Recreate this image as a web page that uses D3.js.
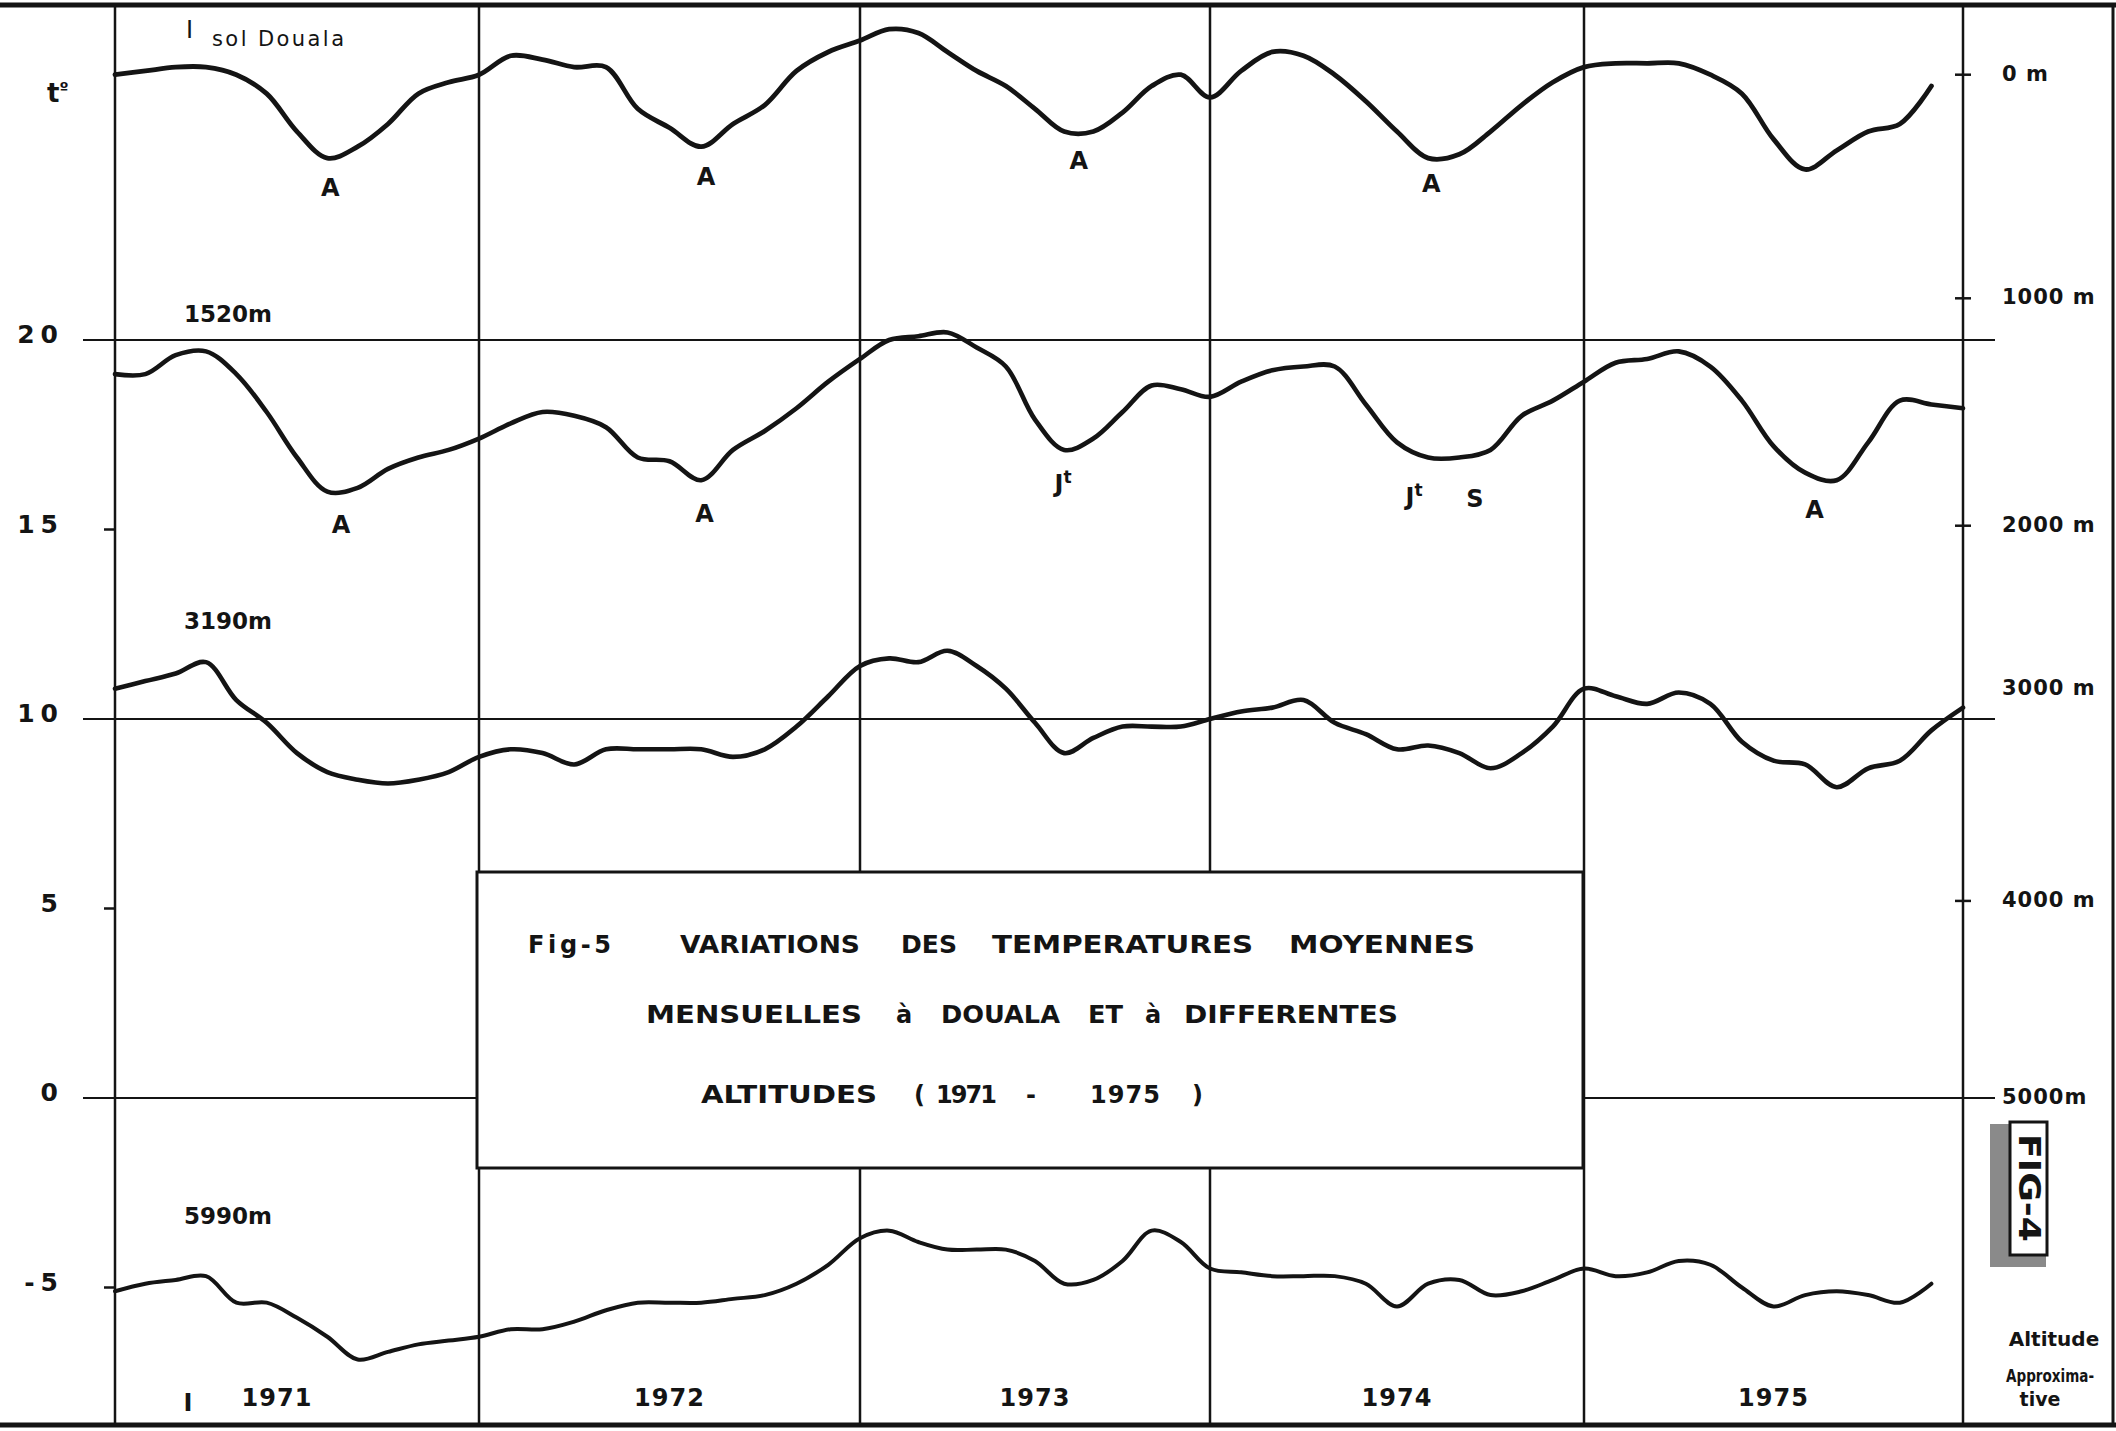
<!DOCTYPE html>
<html>
<head>
<meta charset="utf-8">
<script src="https://cdn.jsdelivr.net/npm/d3@7"></script>
<style>
  html, body { margin: 0; padding: 0; background: #fff; }
  svg { display: block; }
  text { font-family: "DejaVu Sans", sans-serif; fill: #141414; }
</style>
</head>
<body>
<div id="chart"></div>
<script>
// monthly mean temperatures (deg C), one value per month boundary, Jan 1971 -> Dec 1975
const years = [1971, 1972, 1973, 1974, 1975];

const douala = [
  27.0, 27.1, 27.2, 27.2, 27.0, 26.5, 25.5, 24.8, 25.1, 25.7, 26.5, 26.8,
  27.0, 27.5, 27.4, 27.2, 27.2, 26.1, 25.6, 25.1, 25.7, 26.2, 27.1, 27.6,
  27.9, 28.2, 28.1, 27.6, 27.1, 26.7, 26.1, 25.5, 25.5, 26.0, 26.7, 27.0,
  26.4, 27.1, 27.6, 27.5, 27.0, 26.3, 25.5, 24.8, 24.9, 25.5, 26.2, 26.8,
  27.2, 27.3, 27.3, 27.3, 27.0, 26.5, 25.3, 24.5, 25.0, 25.5, 25.7, 26.7, null];

const alt1520 = [
  19.1, 19.1, 19.6, 19.7, 19.1, 18.1, 16.9, 16.0, 16.1, 16.6, 16.9, 17.1,
  17.4, 17.8, 18.1, 18.0, 17.7, 16.9, 16.8, 16.3, 17.1, 17.6, 18.2, 18.9,
  19.5, 20.0, 20.1, 20.2, 19.8, 19.3, 17.9, 17.1, 17.4, 18.1, 18.8, 18.7,
  18.5, 18.9, 19.2, 19.3, 19.3, 18.3, 17.3, 16.9, 16.9, 17.1, 18.0, 18.4,
  18.9, 19.4, 19.5, 19.7, 19.3, 18.4, 17.2, 16.5, 16.3, 17.3, 18.4, 18.3, 18.2];

const alt3190 = [
  10.8, 11.0, 11.2, 11.5, 10.5, 9.9, 9.1, 8.6, 8.4, 8.3, 8.4, 8.6,
  9.0, 9.2, 9.1, 8.8, 9.2, 9.2, 9.2, 9.2, 9.0, 9.2, 9.8, 10.6,
  11.4, 11.6, 11.5, 11.8, 11.4, 10.8, 9.9, 9.1, 9.5, 9.8, 9.8, 9.8,
  10.0, 10.2, 10.3, 10.5, 9.9, 9.6, 9.2, 9.3, 9.1, 8.7, 9.1, 9.8,
  10.8, 10.6, 10.4, 10.7, 10.4, 9.4, 8.9, 8.8, 8.2, 8.7, 8.9, 9.7, 10.3];

const alt5990 = [
  -5.1, -4.9, -4.8, -4.7, -5.4, -5.4, -5.8, -6.3, -6.9, -6.7, -6.5, -6.4,
  -6.3, -6.1, -6.1, -5.9, -5.6, -5.4, -5.4, -5.4, -5.3, -5.2, -4.9, -4.4,
  -3.7, -3.5, -3.8, -4.0, -4.0, -4.0, -4.3, -4.9, -4.8, -4.3, -3.5, -3.8,
  -4.5, -4.6, -4.7, -4.7, -4.7, -4.9, -5.5, -4.9, -4.8, -5.2, -5.1, -4.8,
  -4.5, -4.7, -4.6, -4.3, -4.4, -5.0, -5.5, -5.2, -5.1, -5.2, -5.4, -4.9, null];

const seriesLabels = ["sol Douala", "1520m", "3190m", "5990m"];
const seriesLabelTemps = [27.9, 20.7, 12.6, -3.1];

const tempTicks = [20, 15, 10, 5, 0, -5];
const gridTemps = [20, 10, 0];
const altitudes = [0, 1000, 2000, 3000, 4000, 5000];
const altitudeTemps = [27.0, 21.1, 15.1, 10.8, 5.2, 0];
const tickedAltitudes = [0, 1000, 2000, 4000];

// seasonal minima marks: [series, month, label temp, text]
const marks = [
  [0, 7.1, 23.8, "A"], [0, 19.15, 24.1, "A"], [0, 31.5, 24.5, "A"], [0, 43.1, 23.9, "A"],
  [1, 7.45, 14.9, "A"], [1, 19.1, 15.2, "A"], [1, 30.96, 16.0, "Jt"],
  [1, 42.55, 15.65, "Jt"], [1, 44.5, 15.6, "S"], [1, 55.3, 15.3, "A"]
];

const titleLines = [
  [["Fig-5", 528, 611], ["VARIATIONS", 680, 860], ["DES", 901, 957], ["TEMPERATURES", 992, 1253], ["MOYENNES", 1289, 1475]],
  [["MENSUELLES", 646, 862], ["à", 896, 913], ["DOUALA", 941, 1060], ["ET", 1088, 1123], ["à", 1145, 1161], ["DIFFERENTES", 1184, 1398]],
  [["ALTITUDES", 701, 877], ["(", 914, 922], ["1971", 936, 997], ["-", 1026, 1037], ["1975", 1090, 1160], [")", 1192, 1199]]
];
const titleBaselines = [953, 1023, 1103];

const width = 2116, height = 1431;
const ink = "#141414";

const x = d3.scaleLinear()
  .domain([0, 12, 24, 36, 48, 60])
  .range([115, 479, 860, 1210, 1584, 1963]);

const y = d3.scaleLinear()
  .domain([0, 20])
  .range([1098, 340]);

const svg = d3.select("#chart").append("svg")
  .attr("width", width).attr("height", height);

svg.append("rect").attr("width", width).attr("height", height).attr("fill", "#fff");

// outer frame
svg.append("line").attr("x1", 0).attr("x2", width).attr("y1", 5).attr("y2", 5)
  .attr("stroke", ink).attr("stroke-width", 5);
svg.append("line").attr("x1", 0).attr("x2", width).attr("y1", 1425).attr("y2", 1425)
  .attr("stroke", ink).attr("stroke-width", 5);
svg.append("line").attr("x1", 2113).attr("x2", 2113).attr("y1", 5).attr("y2", 1425)
  .attr("stroke", ink).attr("stroke-width", 3);

// year separators
svg.selectAll(".yearline")
  .data(d3.range(0, 61, 12))
  .enter().append("line")
  .attr("class", "yearline")
  .attr("x1", d => x(d)).attr("x2", d => x(d))
  .attr("y1", 5).attr("y2", 1425)
  .attr("stroke", ink).attr("stroke-width", 2.5);

// horizontal reference lines
svg.selectAll(".grid")
  .data(gridTemps)
  .enter().append("line")
  .attr("class", "grid")
  .attr("x1", 83).attr("x2", 1995)
  .attr("y1", d => y(d)).attr("y2", d => y(d))
  .attr("stroke", ink).attr("stroke-width", 2.2);

// small ticks on the left edge
svg.selectAll(".ltick")
  .data(tempTicks.filter(d => !gridTemps.includes(d)))
  .enter().append("line")
  .attr("class", "ltick")
  .attr("x1", 104).attr("x2", 116)
  .attr("y1", d => y(d)).attr("y2", d => y(d))
  .attr("stroke", ink).attr("stroke-width", 2.5);

svg.selectAll(".tlabel")
  .data(tempTicks)
  .enter().append("text")
  .attr("class", "tlabel")
  .attr("x", 64)
  .attr("y", d => y(d) + 3)
  .attr("text-anchor", "end")
  .attr("font-size", 25)
  .attr("font-weight", "bold")
  .attr("letter-spacing", 6)
  .text(d => d);

svg.append("text").attr("x", 47).attr("y", 102)
  .attr("font-size", 26).attr("font-weight", "bold")
  .text("t").append("tspan").attr("dy", -9).attr("font-size", 16).text("º");

// altitude axis on the right
svg.selectAll(".rtick")
  .data(tickedAltitudes)
  .enter().append("line")
  .attr("class", "rtick")
  .attr("x1", 1955).attr("x2", 1971)
  .attr("y1", d => y(altitudeTemps[altitudes.indexOf(d)]))
  .attr("y2", d => y(altitudeTemps[altitudes.indexOf(d)]))
  .attr("stroke", ink).attr("stroke-width", 2.5);

svg.selectAll(".alabel")
  .data(altitudes)
  .enter().append("text")
  .attr("class", "alabel")
  .attr("x", 2002)
  .attr("y", (d, i) => y(altitudeTemps[i]) + 6)
  .attr("font-size", 21)
  .attr("font-weight", "bold")
  .attr("letter-spacing", 1)
  .text(d => d === 5000 ? d + "m" : d + " m");

svg.append("text").attr("x", 2054).attr("y", 1346).attr("text-anchor", "middle")
  .attr("font-size", 20).attr("font-weight", "bold").text("Altitude");
svg.append("text").attr("x", 2006).attr("y", 1382)
  .attr("font-size", 17).attr("font-weight", "bold")
  .attr("textLength", 88).attr("lengthAdjust", "spacingAndGlyphs").text("Approxima-");
svg.append("text").attr("x", 2040).attr("y", 1406).attr("text-anchor", "middle")
  .attr("font-size", 19).attr("font-weight", "bold").text("tive");

// stamp
const stamp = svg.append("g");
stamp.append("rect").attr("x", 1990).attr("y", 1124).attr("width", 56).attr("height", 143)
  .attr("fill", "#8a8a8a");
stamp.append("rect").attr("x", 2010).attr("y", 1122).attr("width", 37).attr("height", 133)
  .attr("fill", "#fff").attr("stroke", ink).attr("stroke-width", 3);
stamp.append("text")
  .attr("transform", "translate(2019,1188) rotate(90)")
  .attr("text-anchor", "middle")
  .attr("font-size", 30).attr("font-weight", "bold")
  .attr("textLength", 108).attr("lengthAdjust", "spacingAndGlyphs")
  .text("FIG-4");

// title box
svg.append("rect").attr("x", 477).attr("y", 872).attr("width", 1106).attr("height", 296)
  .attr("fill", "#fff").attr("stroke", ink).attr("stroke-width", 3);

titleLines.forEach((words, li) => {
  svg.append("g").selectAll("text")
    .data(words)
    .enter().append("text")
    .attr("x", d => d[1])
    .attr("y", titleBaselines[li])
    .attr("font-size", 24)
    .attr("font-weight", "bold")
    .attr("textLength", d => d[0].length > 1 ? d[2] - d[1] : null)
    .attr("lengthAdjust", d => /\d/.test(d[0]) ? "spacing" : "spacingAndGlyphs")
    .text(d => d[0]);
});

// curves
const series = [douala, alt1520, alt3190, alt5990];
const widths = [4.8, 4.6, 4.6, 4];

const line = d3.line()
  .defined(d => d != null)
  .x((d, i) => x(i))
  .y(d => y(d))
  .curve(d3.curveCatmullRom.alpha(0.5));

svg.selectAll(".curve")
  .data(series)
  .enter().append("path")
  .attr("class", "curve")
  .attr("d", d => line(d))
  .attr("fill", "none")
  .attr("stroke", ink)
  .attr("stroke-width", (d, i) => widths[i])
  .attr("stroke-linejoin", "round")
  .attr("stroke-linecap", "round");

// series names
svg.append("text").attr("x", 186).attr("y", 38).attr("font-size", 24).text("I");
svg.selectAll(".sname")
  .data(seriesLabels)
  .enter().append("text")
  .attr("class", "sname")
  .attr("x", (d, i) => i === 0 ? 212 : 184)
  .attr("y", (d, i) => i === 0 ? 46 : y(seriesLabelTemps[i]) + 9)
  .attr("font-size", (d, i) => i === 0 ? 21 : 23)
  .attr("font-weight", (d, i) => i === 0 ? "normal" : "bold")
  .attr("textLength", (d, i) => i === 0 ? 132 : null)
  .attr("lengthAdjust", "spacing")
  .text(d => d);

// minima marks
const mk = svg.selectAll(".mark")
  .data(marks)
  .enter().append("text")
  .attr("class", "mark")
  .attr("x", d => x(d[1]))
  .attr("y", d => y(d[2]))
  .attr("text-anchor", "middle")
  .attr("font-size", 24)
  .attr("font-weight", "bold")
  .text(d => d[3][0]);
mk.filter(d => d[3].length > 1)
  .append("tspan").attr("dy", -9).attr("font-size", 17).text(d => d[3].slice(1));

// year labels
svg.selectAll(".year")
  .data(years)
  .enter().append("text")
  .attr("class", "year")
  .attr("x", (d, i) => x(i * 12 + 6) + (i === 0 ? -20 : 0))
  .attr("y", 1406)
  .attr("text-anchor", "middle")
  .attr("font-size", 24)
  .attr("font-weight", "bold")
  .attr("letter-spacing", 1)
  .text(d => d);
svg.append("text").attr("x", 188).attr("y", 1411).attr("text-anchor", "middle")
  .attr("font-size", 24).attr("font-weight", "bold").text("I");
</script>
</body>
</html>
